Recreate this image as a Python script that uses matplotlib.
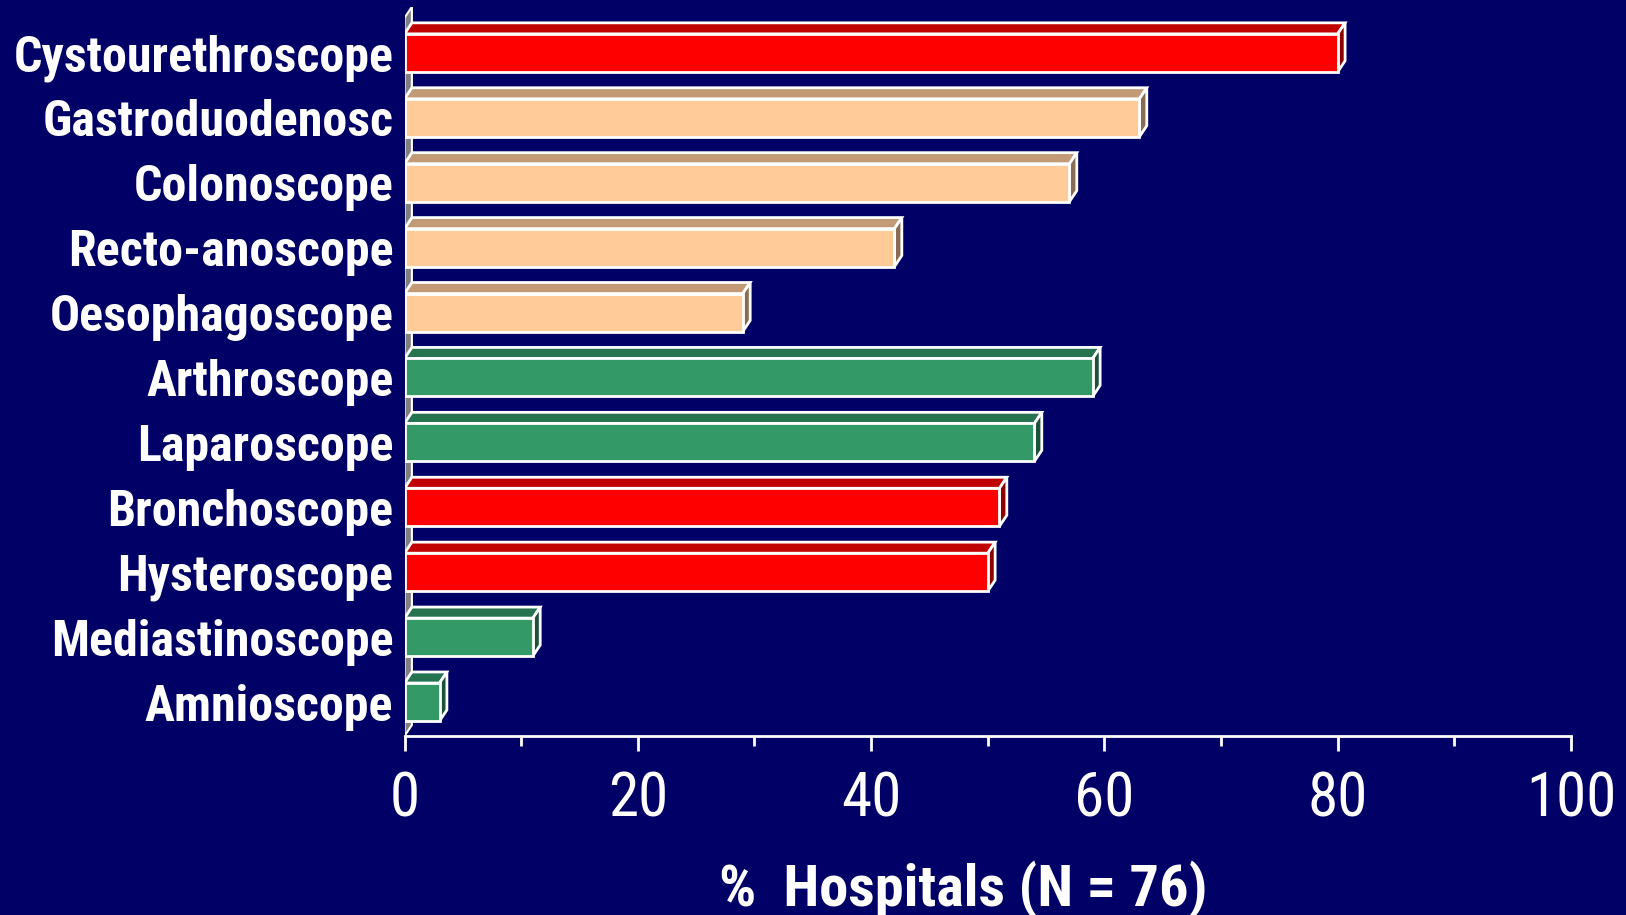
import matplotlib
matplotlib.use("Agg")
import matplotlib.pyplot as plt
from matplotlib.patches import Polygon
from matplotlib.ticker import MultipleLocator

# endoscope types, top to bottom, and % of hospitals using each
scopes = ["Cystourethroscope", "Gastroduodenosc", "Colonoscope", "Recto-anoscope",
          "Oesophagoscope", "Arthroscope", "Laparoscope", "Bronchoscope",
          "Hysteroscope", "Mediastinoscope", "Amnioscope"]
pct = [80, 63, 57, 42, 29, 59, 54, 51, 50, 11, 3]
group = ["red", "peach", "peach", "peach", "peach", "green", "green",
         "red", "red", "green", "green"]

# front / top / side shade for each group
shades = {"red": ("#ff0000", "#c00000", "#8c0000"),
          "peach": ("#ffcc99", "#c29b76", "#8a6c52"),
          "green": ("#339966", "#267350", "#1c5238")}

bg = "#000066"
font = ["Roboto Condensed", "PT Sans Narrow", "DejaVu Sans"]

fig = plt.figure(figsize=(16.26, 9.15), dpi=100, facecolor=bg)
ax = fig.add_axes([0.2488, 0.1956, 0.7174, 0.797])
ax.set_facecolor(bg)

n = len(scopes)
h = 0.585      # bar thickness
dx = 0.63      # depth offset in x (data units)
dy = 0.17      # depth offset in y
ybot, ytop = -0.524, 10.71
ax.set_xlim(0, 100)
ax.set_ylim(ybot, ytop)

# grey back wall
wall = Polygon([(0, ybot), (dx, ybot + dy), (dx, ytop), (0, ytop - dy)],
               closed=True, facecolor="#808080", edgecolor="white", lw=1.5, zorder=1)
ax.add_patch(wall)

for i, (name, v, g) in enumerate(zip(scopes, pct, group)):
    y = n - 1 - i
    front, top, side = shades[g]
    ax.barh(y, v, height=h, left=0, color=front, edgecolor="white", lw=2, zorder=3)
    y0, y1 = y - h / 2, y + h / 2
    ax.add_patch(Polygon([(0, y1), (v, y1), (v + dx, y1 + dy), (dx, y1 + dy)],
                         closed=True, facecolor=top, edgecolor="white", lw=2, zorder=2))
    ax.add_patch(Polygon([(v, y0), (v + dx, y0 + dy), (v + dx, y1 + dy), (v, y1)],
                         closed=True, facecolor=side, edgecolor="white", lw=2, zorder=2))

ax.set_yticks(range(n))
ax.set_yticklabels(scopes[::-1], fontsize=36, fontweight="bold", color="white",
                   family=font)
ax.tick_params(axis="y", length=0, pad=8)

ax.xaxis.set_major_locator(MultipleLocator(20))
ax.xaxis.set_minor_locator(MultipleLocator(10))
ax.tick_params(axis="x", which="major", length=11, width=2, color="white",
               labelcolor="white", labelsize=44, pad=14)
ax.tick_params(axis="x", which="minor", length=7, width=2, color="white")
for lab in ax.get_xticklabels():
    lab.set_family(font)

for s in ["top", "right", "left"]:
    ax.spines[s].set_visible(False)
ax.spines["bottom"].set_color("white")
ax.spines["bottom"].set_linewidth(2)

fig.text(963 / 1626, 1 - 906 / 915, "%  Hospitals (N = 76)", ha="center", va="baseline",
         fontsize=42, fontweight="bold", color="white", family=font)

fig.savefig("out.png", dpi=100, facecolor=bg)
